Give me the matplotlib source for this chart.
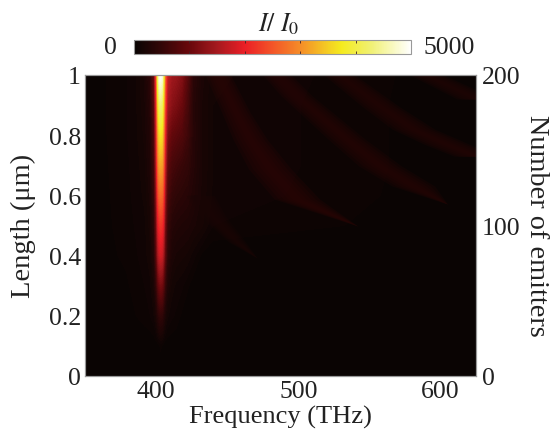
import numpy as np
from matplotlib import pyplot as plt
from matplotlib.cm import ScalarMappable
from matplotlib.colors import LinearSegmentedColormap, Normalize

plt.rcParams['font.family'] = ['Liberation Serif', 'DejaVu Serif']
plt.rcParams['mathtext.fontset'] = 'stix'

# Valores: frequencia (THz), comprimento (um), intensidade I/I0
frequencias = [350, 379, 386, 392, 396, 398.5, 400, 401.2, 402.2, 403.2, 404.2,
               405.2, 406.4, 408, 411, 414, 418, 422, 426, 432, 440, 625]
comprimentos = [0, 0.1, 0.2, 0.3, 0.4, 0.5, 0.6, 0.7, 0.8, 0.9, 1]
intensidade = [
    [0, 0, 0, 0, 0, 0, 0, 0, 0, 0, 0, 0, 0, 0, 0, 0, 0, 0, 0, 0, 0, 0],
    [0, 0, 0, 0, 0, 0, 5, 15, 30, 50, 30, 15, 5, 0, 0, 0, 0, 0, 0, 0, 0, 0],
    [0, 0, 40, 60, 80, 120, 200, 330, 430, 470, 430, 340, 210, 130, 90, 70, 30, 0, 0, 0, 0, 0],
    [0, 30, 60, 80, 110, 210, 450, 800, 1020, 1100, 1020, 830, 480, 240, 140, 110, 90, 50, 10, 0, 0, 0],
    [0, 50, 75, 100, 150, 320, 800, 1400, 1700, 1800, 1700, 1420, 850, 400, 230, 190, 170, 150, 100, 30, 0, 0],
    [0, 60, 85, 110, 180, 400, 1000, 1800, 2100, 2200, 2100, 1850, 1050, 520, 340, 300, 270, 250, 210, 170, 80, 0],
    [0, 65, 95, 130, 220, 500, 1250, 2200, 2600, 2700, 2600, 2250, 1350, 700, 500, 440, 400, 360, 290, 190, 110, 0],
    [0, 70, 100, 150, 260, 600, 1500, 2600, 3100, 3200, 3100, 2650, 1650, 900, 690, 620, 540, 470, 340, 200, 120, 0],
    [0, 75, 110, 170, 300, 700, 1700, 3000, 3550, 3700, 3550, 3000, 1950, 1150, 930, 860, 770, 600, 360, 200, 120, 0],
    [0, 75, 115, 190, 350, 800, 1900, 3400, 4100, 4300, 4100, 3450, 2300, 1450, 1250, 1150, 1000, 700, 350, 200, 120, 0],
    [0, 75, 120, 210, 420, 950, 2200, 4000, 4800, 5000, 4800, 4000, 2600, 1700, 1450, 1380, 1230, 850, 400, 220, 130, 0],
]

# Bandas fracas: comprimento, centro em frequencia, meia largura, intensidade
banda_a = ([0.6, 0.53, 0.445, 0.392], [431, 440, 457, 471], [10, 9, 6, 0], 230)
banda_b = ([1, 0.877, 0.787, 0.688, 0.588, 0.498], [443.5, 456, 466, 480, 499, 542], [9, 10, 12, 15, 16, 0], 400)
banda_c = ([1, 0.93, 0.787, 0.698, 0.631, 0.571], [485, 499, 534, 557.5, 581, 605], [10, 11, 13, 15, 15, 0], 360)
banda_d = ([1, 0.897, 0.82, 0.77, 0.73], [529, 557.5, 581, 604.5, 625.7], [11, 13, 15, 16, 16], 330)
banda_e = ([1, 0.92], [590.5, 625.7], [12, 14], 300)
bandas = [banda_a, banda_b, banda_c, banda_d, banda_e]

cores = [(0, '#080403'), (0.1, '#330607'), (0.2, '#69080c'), (0.3, '#a5191e'),
         (0.4, '#eb1e26'), (0.5, '#f35528'), (0.6, '#f58c28'), (0.7, '#f5cd23'),
         (0.75, '#f5eb1e'), (0.85, '#f0f06e'), (1, '#ffffff')]
mapa = LinearSegmentedColormap.from_list('calor', cores, N=512)
norma = Normalize(0, 5000)

fig = plt.figure(figsize=(5.51, 4.31), dpi=100)
ax = fig.add_axes([85 / 551, 1 - 377 / 431, 391 / 551, 301 / 431])

ax.contourf(frequencias, comprimentos, np.array(intensidade), levels=np.linspace(0, 5000, 126),
            cmap=mapa, norm=norma, antialiased=False)

for comp, centro, meia, valor in bandas:
    comp = np.array(comp)
    centro = np.array(centro)
    meia = np.array(meia)
    cor = mapa(norma(valor))
    # Camadas para imitar a borda suave da banda
    for k in [1, 0.8, 0.6, 0.4, 0.2]:
        ax.fill_betweenx(comp, centro - k * meia, centro + k * meia, color=cor, alpha=0.28, lw=0)

ax.set_xlim(350, 625)
ax.set_ylim(0, 1)
ax.set_xticks([400, 500, 600])
ax.set_yticks([0, 0.2, 0.4, 0.6, 0.8, 1])
ax.set_yticklabels(['0', '0.2', '0.4', '0.6', '0.8', '1'])
ax.tick_params(length=0, labelsize=18.5, pad=3, labelcolor='#222222')

ax2 = ax.twinx()
ax2.set_ylim(0, 200)
ax2.set_yticks([0, 100, 200])
ax2.tick_params(length=0, labelsize=18.5, pad=4, labelcolor='#222222')

for eixo in [ax, ax2]:
    for spine in eixo.spines.values():
        spine.set_color('#999999')
        spine.set_linewidth(0.8)

# Barra de cores
cax = fig.add_axes([134 / 551, 1 - 55 / 431, 277 / 551, 14 / 431])
barra = fig.colorbar(ScalarMappable(norm=norma, cmap=mapa), cax=cax, orientation='horizontal')
barra.set_ticks([1000, 2000, 3000, 4000])
cax.tick_params(direction='in', length=2, width=0.6, top=True, bottom=True, labelbottom=False, color='#442222')
barra.outline.set_edgecolor('#999999')
barra.outline.set_linewidth(0.8)

fig.text(110 / 551, 1 - 48 / 431, '0', fontsize=18.5, ha='center', va='center', color='#222222')
fig.text(449 / 551, 1 - 48 / 431, '5000', fontsize=18.5, ha='center', va='center', color='#222222')
fig.text(279 / 551, 1 - 24 / 431, r'$I/\ I_0$', fontsize=18.5, ha='center', va='center', color='#222222')

fig.text(280 / 551, 1 - 417 / 431, 'Frequency (THz)', fontsize=19, ha='center', va='center', color='#222222')
fig.text(23 / 551, 1 - 226 / 431, 'Length (μm)', fontsize=20.5, rotation=90, ha='center', va='center', color='#222222')
fig.text(537 / 551, 1 - 226 / 431, 'Number of emitters', fontsize=20.3, rotation=270, ha='center', va='center', color='#222222')

fig.savefig('out.png', dpi=100)
